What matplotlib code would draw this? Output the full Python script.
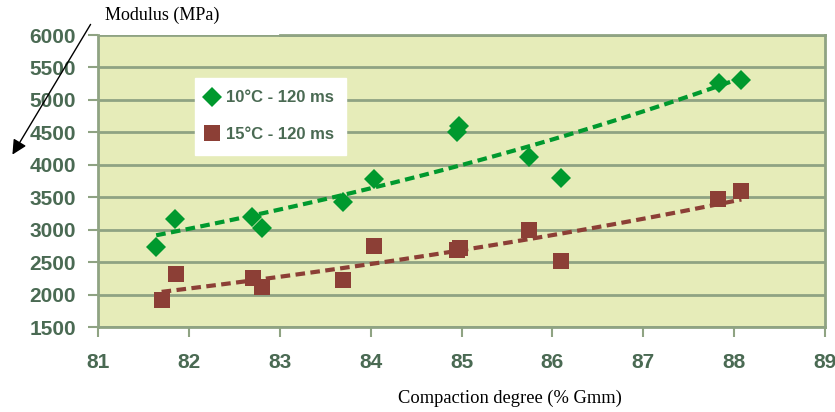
import numpy as np
import matplotlib.pyplot as plt
from matplotlib.lines import Line2D

# compaction degree (% Gmm) and modulus (MPa)
x_10 = [81.64, 81.85, 82.69, 82.80, 83.70, 84.04, 84.95, 84.97, 85.74, 86.10, 87.83, 88.08]
y_10 = [2730, 3160, 3200, 3030, 3420, 3780, 4500, 4600, 4120, 3800, 5260, 5310]

x_15 = [81.70, 81.86, 82.71, 82.80, 83.70, 84.04, 84.95, 84.98, 85.74, 86.10, 87.82, 88.08]
y_15 = [1910, 2310, 2260, 2120, 2220, 2750, 2690, 2720, 2990, 2510, 3480, 3590]

labels = ['10°C - 120 ms', '15°C - 120 ms']
x_ticks = [81, 82, 83, 84, 85, 86, 87, 88, 89]
y_ticks = [1500, 2000, 2500, 3000, 3500, 4000, 4500, 5000, 5500, 6000]

green = '#00992e'
brown = '#8c3f36'
tick_col = '#4a6a53'
grid_col = '#8fa383'
font = ['Liberation Sans', 'DejaVu Sans']
serif = ['Liberation Serif', 'DejaVu Serif']

fig = plt.figure(figsize=(8.35, 4.12), dpi=100)
ax = fig.add_axes([0.1174, 0.2063, 0.8706, 0.7087])
ax.set_facecolor('#e6ecb9')

def exp_trend(x, y):
    x = np.asarray(x)
    b, a = np.polyfit(x, np.log(y), 1)
    xs = np.linspace(x.min(), x.max(), 50)
    return xs, np.exp(a + b * xs)

for xs, ys, col, mk, ms in [(x_10, y_10, green, 'D', 10.5), (x_15, y_15, brown, 's', 12)]:
    tx, ty = exp_trend(xs, ys)
    ax.plot(tx, ty, color=col, lw=3, dashes=(2.3, 1.3), zorder=3)
    ax.plot(xs, ys, linestyle='none', marker=mk, ms=ms, color=col,
            markeredgewidth=0, zorder=4)

ax.set_xlim(81, 89)
ax.set_ylim(1500, 6000)
ax.set_xticks(x_ticks)
ax.set_yticks(y_ticks)
ax.grid(axis='y', color=grid_col, lw=2)
ax.set_axisbelow(True)

for s in ['left', 'right', 'top', 'bottom']:
    ax.spines[s].set_color(grid_col)
    ax.spines[s].set_linewidth(2)
ax.spines['top'].set_bounds(83, 89)

ax.tick_params(axis='both', colors=grid_col, width=1.5, length=7)
ax.tick_params(axis='x', pad=12)
ax.tick_params(axis='y', pad=9)
for t in ax.get_xticklabels() + ax.get_yticklabels():
    t.set_family(font)
    t.set_fontweight('bold')
    t.set_fontsize(15)
    t.set_color(tick_col)

handles = [Line2D([], [], linestyle='none', marker='D', ms=10, color=green, markeredgewidth=0),
           Line2D([], [], linestyle='none', marker='s', ms=12, color=brown, markeredgewidth=0)]
leg = ax.legend(handles, labels, loc='upper left', bbox_to_anchor=(0.133, 0.853),
                borderaxespad=0, frameon=True, fancybox=False, framealpha=1,
                edgecolor='white', handletextpad=0.5, handlelength=0.6,
                labelspacing=1.3, borderpad=0.75,
                prop={'family': font, 'weight': 'bold', 'size': 12})
for t in leg.get_texts():
    t.set_color(tick_col)

fig.text(105 / 835, 1 - 15 / 412, 'Modulus (MPa)', family=serif, fontsize=13,
         ha='left', va='center')
fig.text(510 / 835, 1 - 398 / 412, 'Compaction degree (% Gmm)', family=serif,
         fontsize=13.3, ha='center', va='center')
ax.annotate('', xy=(11, 412 - 157), xycoords='figure pixels',
            xytext=(92, 412 - 22), textcoords='figure pixels',
            arrowprops=dict(arrowstyle='-|>', color='black', lw=1,
                            mutation_scale=22))

fig.savefig('out.png', dpi=100)
